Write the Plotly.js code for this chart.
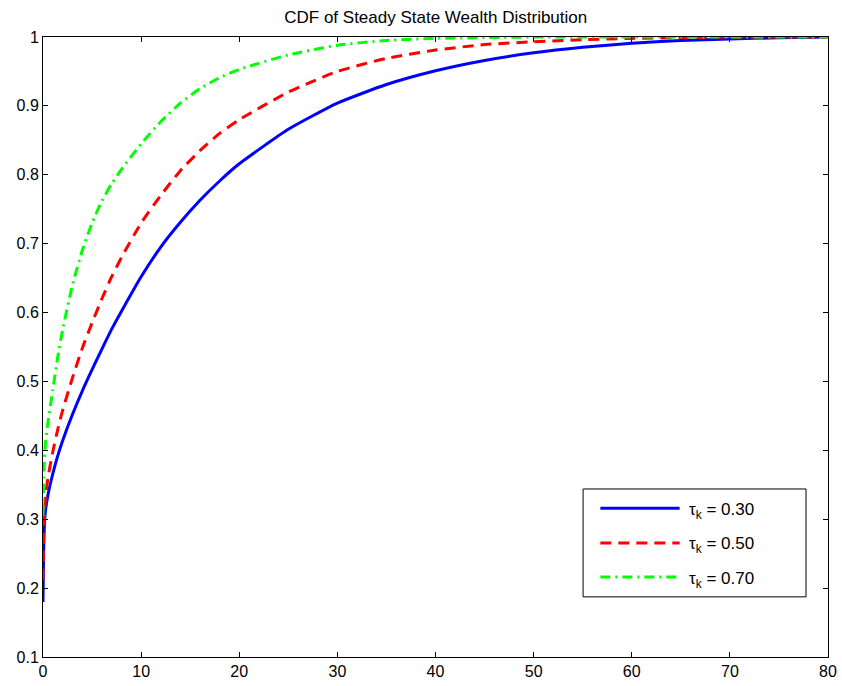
<!DOCTYPE html>
<html>
<head>
<meta charset="utf-8">
<script src="https://cdn.plot.ly/plotly-3.0.1.min.js"></script>
<style>
  html, body { margin: 0; padding: 0; background: #fff; }
  #chart { width: 842px; height: 686px; }
</style>
</head>
<body>
<div id="chart"></div>
<script>
// Wealth levels (x) at which the cumulative distribution is evaluated
const wealth = [0, 0.1, 0.25, 0.5, 1, 1.5, 2, 3, 4, 5, 6, 7, 8, 10, 12, 14, 16, 18, 20,
                25, 30, 35, 40, 45, 50, 55, 60, 65, 70, 75, 80];

// CDF for each capital tax rate
const cdfTau030 = [0.180, 0.275, 0.312, 0.335, 0.366, 0.392, 0.414, 0.452, 0.486, 0.517, 0.547, 0.576, 0.602,
                   0.652, 0.695, 0.731, 0.763, 0.791, 0.816,
                   0.866, 0.904, 0.931, 0.951, 0.966, 0.977, 0.985, 0.991, 0.995, 0.997, 0.999, 1.000];
const cdfTau050 = [0.212, 0.290, 0.330, 0.360, 0.398, 0.430, 0.458, 0.505, 0.548, 0.585, 0.620, 0.652, 0.680,
                   0.730, 0.770, 0.806, 0.835, 0.860, 0.880,
                   0.920, 0.950, 0.969, 0.981, 0.989, 0.993, 0.996, 0.998, 0.999, 1.000, 1.000, 1.000];
const cdfTau070 = [0.305, 0.370, 0.410, 0.440, 0.488, 0.535, 0.575, 0.640, 0.690, 0.730, 0.762, 0.787, 0.808,
                   0.845, 0.877, 0.904, 0.925, 0.941, 0.953,
                   0.974, 0.988, 0.995, 0.998, 0.999, 1.000, 1.000, 1.000, 1.000, 1.000, 1.000, 1.000];

const seriesNames = ['τ<sub>k</sub> = 0.30', 'τ<sub>k</sub> = 0.50', 'τ<sub>k</sub> = 0.70'];
const xTicks = [0, 10, 20, 30, 40, 50, 60, 70, 80];
const yTicks = [0.1, 0.2, 0.3, 0.4, 0.5, 0.6, 0.7, 0.8, 0.9, 1];

const FONT = 'Liberation Sans, Arial, Helvetica, sans-serif';

const styles = [
  { color: '#0000ff', dash: 'solid' },
  { color: '#ff0000', dash: '11px,7px' },
  { color: '#00ff00', dash: '10px,5px,2px,5px' }
];
const seriesY = [cdfTau030, cdfTau050, cdfTau070];

const traces = seriesY.map((ys, i) => ({
  x: wealth,
  y: ys,
  type: 'scatter',
  mode: 'lines',
  name: seriesNames[i],
  line: { color: styles[i].color, width: 3, dash: styles[i].dash, shape: 'spline', smoothing: 0.5 },
  showlegend: false,
  hoverinfo: 'x+y'
}));

// Boxed legend drawn in paper coordinates, lower right of the axes
const legBox = { x0: 0.688, x1: 0.972, y0: 0.097, y1: 0.271 };
const rowY = [0.240, 0.184, 0.129];
const shapes = [{
  type: 'rect', xref: 'paper', yref: 'paper',
  x0: legBox.x0, x1: legBox.x1, y0: legBox.y0, y1: legBox.y1,
  line: { color: '#000', width: 1 }, fillcolor: '#fff', layer: 'above'
}];
const annotations = [];
rowY.forEach((ry, i) => {
  shapes.push({
    type: 'line', xref: 'paper', yref: 'paper',
    x0: 0.710, x1: 0.811, y0: ry, y1: ry,
    line: { color: styles[i].color, width: 3, dash: styles[i].dash }, layer: 'above'
  });
  annotations.push({
    xref: 'paper', yref: 'paper', x: 0.820, y: ry - 0.004,
    xanchor: 'left', yanchor: 'middle', showarrow: false,
    text: seriesNames[i],
    font: { family: FONT, size: 17, color: '#000' }
  });
});

const axisCommon = {
  showgrid: false, zeroline: false,
  showline: true, linecolor: '#000', linewidth: 1, mirror: 'ticks',
  ticks: 'inside', ticklen: 5, tickcolor: '#000', tickwidth: 1,
  tickfont: { family: FONT, size: 16, color: '#000' }
};

const layout = {
  width: 842, height: 686,
  margin: { l: 43, r: 14, t: 37, b: 29 },
  paper_bgcolor: '#fff', plot_bgcolor: '#fff',
  title: {
    text: 'CDF of Steady State Wealth Distribution',
    font: { family: FONT, size: 17, color: '#000' },
    x: 0.5175, xanchor: 'center', y: 0.975, yanchor: 'middle'
  },
  xaxis: Object.assign({}, axisCommon, {
    range: [0, 80], tickmode: 'array', tickvals: xTicks, ticktext: xTicks.map(String)
  }),
  yaxis: Object.assign({}, axisCommon, {
    range: [0.1, 1], tickmode: 'array', tickvals: yTicks, ticktext: yTicks.map(String)
  }),
  shapes: shapes,
  annotations: annotations,
  showlegend: false
};

Plotly.newPlot('chart', traces, layout, { displayModeBar: false, staticPlot: true });
</script>
</body>
</html>
